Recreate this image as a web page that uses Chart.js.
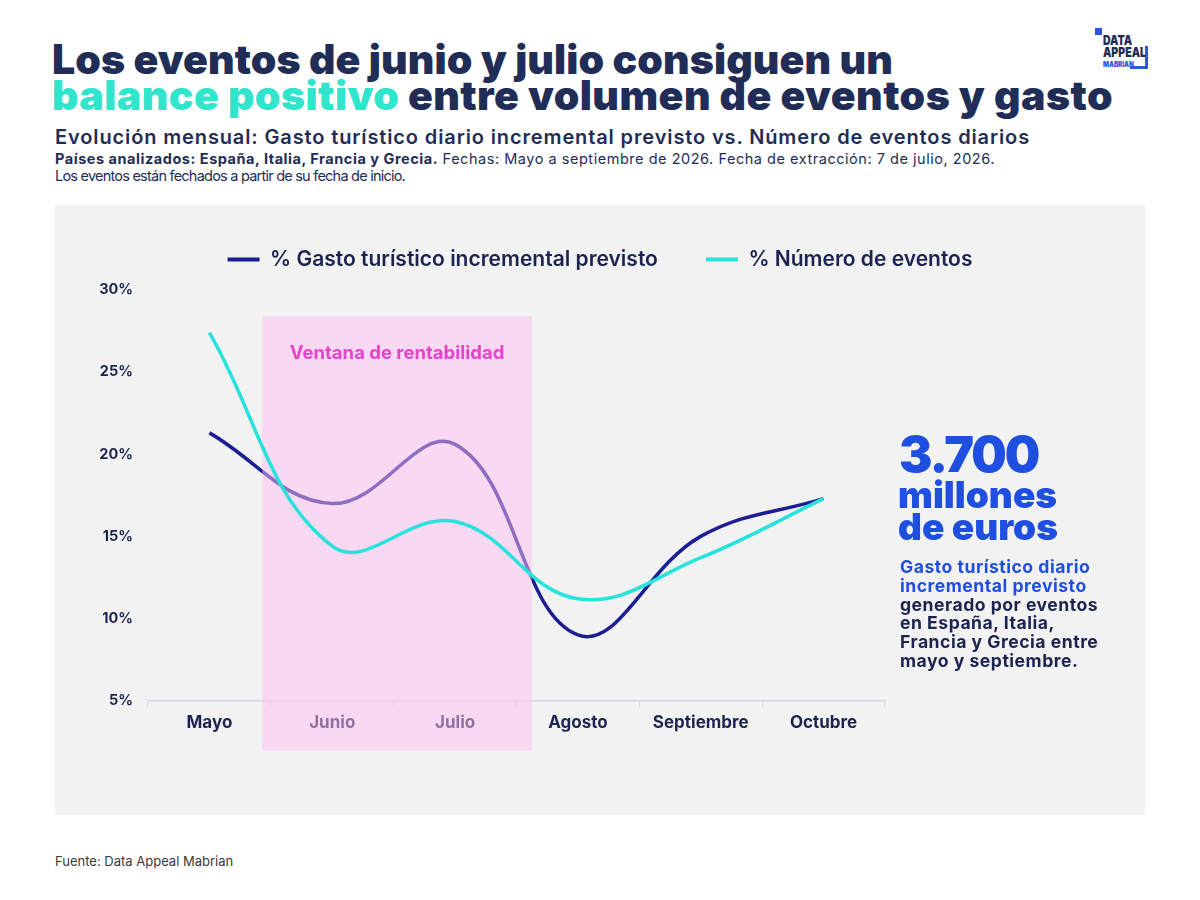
<!DOCTYPE html>
<html>
<head>
<meta charset="utf-8">
<script src="https://cdn.jsdelivr.net/npm/chart.js@4.4.1/dist/chart.umd.min.js"></script>
<style>
  body { margin:0; width:1200px; height:900px; background:#fff; position:relative; overflow:hidden; font-family:Inter, "Noto Sans", sans-serif; }
  .abs { position:absolute; white-space:nowrap; }
  .title { font-weight:900; font-size:41px; line-height:1; color:#1f2d57; }
  #t1 { left:52px; top:39px; }
  #t2 { left:52px; top:75px; }
  .hi { color:#31e4cc; }
  #s1 { left:55px; top:125px; font-size:20px; font-weight:600; color:#1f2d57; line-height:1.2; }
  #s2 { left:55px; top:150px; font-size:14.5px; color:#1f2d57; line-height:1.2; }
  #s3 { left:55px; top:167px; font-size:14.5px; color:#1f2d57; line-height:1.2; }
  #s2 b { font-weight:700; }
  #panel { left:55px; top:205px; width:1090px; height:610px; background:#f2f2f2; }
  #chartBox { position:absolute; left:0; top:0; width:1090px; height:610px; }
  .big { font-weight:900; color:#1f4fe0; line-height:1; }
  #b1 { left:899px; top:429px; font-size:50px; letter-spacing:-2px; }
  #b2 { left:898px; top:476px; font-size:37px; }
  #b3 { left:898px; top:508px; font-size:37px; }
  #para { left:900px; top:558px; font-size:17.6px; font-weight:700; line-height:18.8px; letter-spacing:0.5px; color:#1c2350; }
  #para .blue { color:#1f4fe0; }
  #foot { left:55px; top:853px; font-size:13px; color:#3a3a3a; }
  #logo .sq { position:absolute; left:1095px; top:28px; width:7px; height:7px; background:#2d55e0; }
  #logo .tx { position:absolute; left:1103px; font-weight:900; color:#1f2d57; line-height:1; transform:scaleX(0.78); transform-origin:left top; }
  #logo .bar { position:absolute; background:#2d55e0; }
</style>
</head>
<body>
<div id="t1" class="abs title" data-w="841">Los eventos de junio y julio consiguen un</div>
<div id="t2" class="abs title" data-w="1061"><span class="hi">balance positivo</span> entre volumen de eventos y gasto</div>
<div id="s1" class="abs" data-w="975">Evolución mensual: Gasto turístico diario incremental previsto vs. Número de eventos diarios</div>
<div id="s2" class="abs" data-w="940"><b>Países analizados: España, Italia, Francia y Grecia.</b> Fechas: Mayo a septiembre de 2026. Fecha de extracción: 7 de julio, 2026.</div>
<div id="s3" class="abs" data-w="350">Los eventos están fechados a partir de su fecha de inicio.</div>

<div id="logo">
  <div class="sq"></div>
  <div class="tx" style="top:34px;font-size:13.5px;">DATA</div>
  <div class="tx" style="top:46px;font-size:13.5px;">APPEAL</div>
  <div class="tx" style="top:60px;font-size:8px;color:#2d55e0;">MABRIAN</div>
  <div class="bar" style="left:1145px;top:46px;width:3px;height:23px;"></div>
  <div class="bar" style="left:1130px;top:66px;width:18px;height:3px;"></div>
</div>

<div id="panel" class="abs">
  <div id="chartBox"><canvas id="c"></canvas></div>
</div>

<div id="b1" class="abs big">3.700</div>
<div id="b2" class="abs big">millones</div>
<div id="b3" class="abs big">de euros</div>
<div id="para" class="abs"><span class="blue">Gasto turístico diario<br>incremental previsto</span><br>generado por eventos<br>en España, Italia,<br>Francia y Grecia entre<br>mayo y septiembre.</div>

<div id="foot" class="abs">Fuente: Data Appeal Mabrian</div>

<script>
// datos
const months = ['Mayo', 'Junio', 'Julio', 'Agosto', 'Septiembre', 'Octubre'];
const gastoPct = [21.3, 17.0, 20.6, 9.0, 15.0, 17.3];
const eventosPct = [27.4, 14.4, 15.9, 11.2, 13.7, 17.3];
const yTicks = [5, 10, 15, 20, 25, 30];
const seriesNames = ['% Gasto turístico incremental previsto', '% Número de eventos'];
const windowMonths = ['Junio', 'Julio'];
const windowLabel = 'Ventana de rentabilidad';

// ajustar el ancho de los textos de cabecera
document.querySelectorAll('[data-w]').forEach(el => {
  const target = +el.dataset.w;
  const w = el.getBoundingClientRect().width;
  const n = el.textContent.length;
  el.style.letterSpacing = ((target - w) / n) + 'px';
});

const navy = '#1c2350';

// franja rosa: se pinta encima de la serie de gasto y debajo de la de eventos
const ventana = {
  id: 'ventana',
  afterDatasetDraw(chart, args) {
    if (args.index !== 0) return;
    const { ctx, chartArea } = chart;
    const x = chart.scales.x, y = chart.scales.y;
    const i0 = months.indexOf(windowMonths[0]);
    const i1 = months.indexOf(windowMonths[1]);
    const step = x.getPixelForValue(1) - x.getPixelForValue(0);
    const left = x.getPixelForValue(i0) - 0.57 * step;
    const right = x.getPixelForValue(i1) + 0.625 * step;
    const top = y.getPixelForValue(28.4);
    const bottom = chartArea.bottom + 50;
    ctx.save();
    ctx.fillStyle = 'rgba(255,190,242,0.5)';
    ctx.fillRect(left, top, right - left, bottom - top);
    ctx.fillStyle = '#e842cd';
    ctx.font = '700 18.5px Inter';
    ctx.textAlign = 'center';
    ctx.textBaseline = 'middle';
    ctx.fillText(windowLabel, (left + right) / 2, top + 37);
    ctx.restore();
  }
};

// más espacio entre la leyenda y el área del gráfico
const legendGap = {
  id: 'legendGap',
  beforeLayout(chart) {
    const lg = chart.legend;
    if (!lg || lg._gapPatched) return;
    const fit = lg.fit;
    lg.fit = function () { fit.call(this); this.height = 89; };
    lg._gapPatched = true;
  }
};

new Chart(document.getElementById('c'), {
  type: 'line',
  data: {
    labels: months,
    datasets: [
      {
        label: seriesNames[0],
        data: gastoPct,
        borderColor: '#1c1f94',
        backgroundColor: '#1c1f94',
        borderWidth: 3.5,
        tension: 0.4,
        pointRadius: 0,
        order: 1
      },
      {
        label: seriesNames[1],
        data: eventosPct,
        borderColor: '#27e3dc',
        backgroundColor: '#27e3dc',
        borderWidth: 3.5,
        tension: 0.4,
        pointRadius: 0,
        order: 0
      }
    ]
  },
  options: {
    responsive: true,
    maintainAspectRatio: false,
    animation: false,
    layout: { padding: { top: -4, left: 0, right: 0, bottom: 77 } },
    plugins: {
      tooltip: { enabled: false },
      legend: {
        position: 'top',
        labels: {
          boxWidth: 32,
          boxHeight: 4,
          padding: 48,
          color: navy,
          font: { family: 'Inter', size: 21, weight: '600' },
          sort: (a, b) => a.datasetIndex - b.datasetIndex,
          generateLabels: c => Chart.defaults.plugins.legend.labels.generateLabels(c)
            .map(l => ({ ...l, lineWidth: 0 }))
        }
      }
    },
    scales: {
      x: {
        offset: true,
        grid: { display: true, drawOnChartArea: false, offset: true, tickLength: 7, color: '#d3d8e4' },
        border: { display: true, color: '#d3d8e4', width: 1.5 },
        ticks: { color: navy, padding: 5, font: { family: 'Inter', size: 17, weight: '700' } }
      },
      y: {
        min: yTicks[0],
        max: yTicks[yTicks.length - 1],
        afterBuildTicks: s => { s.ticks = yTicks.map(v => ({ value: v })); },
        afterFit: s => { s.width = 93; },
        grid: { display: false },
        border: { display: false },
        ticks: { color: navy, padding: 7, font: { family: 'Inter', size: 14.5, weight: '700' }, callback: v => v + '%' }
      },
      yRight: {
        position: 'right',
        afterFit: s => { s.width = 260; },
        grid: { display: false },
        border: { display: false },
        ticks: { display: false }
      }
    }
  },
  plugins: [ventana, legendGap]
});
</script>
</body>
</html>
